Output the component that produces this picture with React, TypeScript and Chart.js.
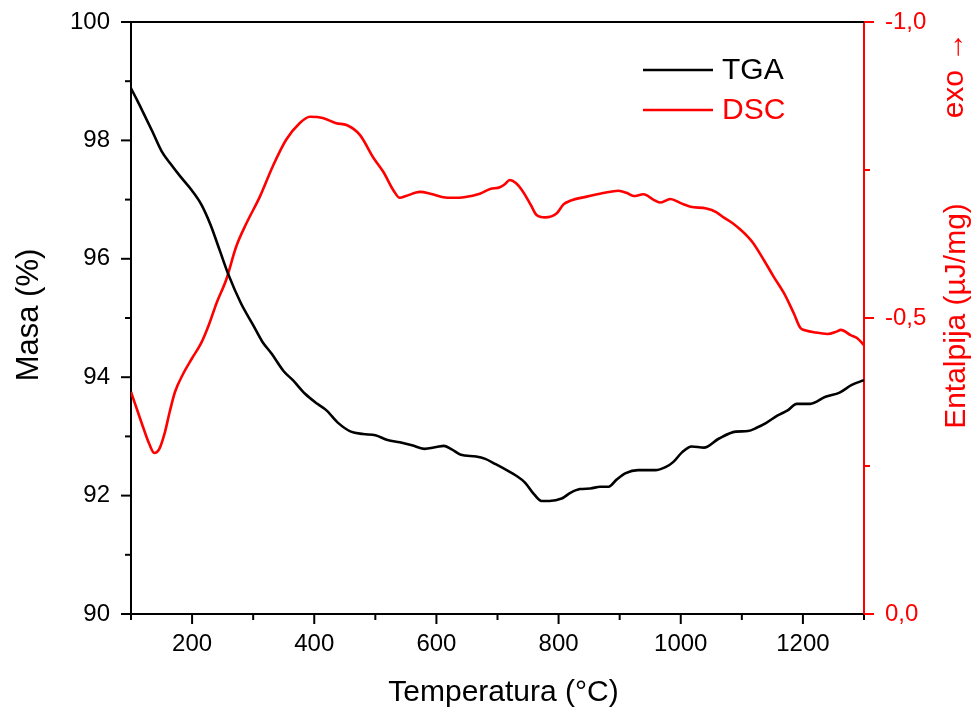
import React, { useEffect, useRef } from "react";
import { Chart, registerables } from "chart.js";

Chart.register(...registerables);

// ---------- data ----------
const TGA_TEMP = [
  100, 110, 120, 135, 150, 165, 180, 200, 215, 230, 245, 260, 280, 300, 315, 330, 350, 365, 385, 405,
  420, 440, 460, 480, 500, 520, 540, 560, 580, 600, 612, 625, 640, 665, 680, 697, 715, 730, 745, 760,
  772, 785, 805, 820, 835, 852, 868, 882, 895, 910, 930, 958, 975, 988, 1002, 1018, 1038, 1062, 1090,
  1110, 1125, 1140, 1158, 1175, 1190, 1212, 1237, 1260, 1280, 1300,
];
const TGA_MASS = [
  98.88, 98.68, 98.47, 98.15, 97.82, 97.6, 97.4, 97.15, 96.92, 96.58, 96.15, 95.72, 95.25, 94.88, 94.6,
  94.4, 94.1, 93.95, 93.72, 93.55, 93.44, 93.22, 93.08, 93.04, 93.02, 92.94, 92.9, 92.85, 92.79, 92.82,
  92.84, 92.78, 92.69, 92.66, 92.62, 92.53, 92.43, 92.34, 92.22, 92.02, 91.91, 91.91, 91.95, 92.05,
  92.11, 92.12, 92.15, 92.15, 92.27, 92.38, 92.43, 92.43, 92.48, 92.57, 92.73, 92.83, 92.81, 92.96,
  93.08, 93.09, 93.15, 93.23, 93.35, 93.44, 93.55, 93.55, 93.67, 93.74, 93.87, 93.95,
];

const DSC_TEMP = [
  100, 110, 120, 130, 138, 146, 155, 163, 172, 185, 200, 215, 228, 240, 256, 272, 289, 311, 332, 354,
  376, 393, 414, 436, 453, 475, 496, 513, 530, 540, 550, 573, 590, 611, 630, 645, 671, 688, 704, 712,
  720, 730, 742, 755, 764, 778, 797, 808, 819, 846, 873, 898, 912, 923, 939, 955, 966, 983, 1000, 1016,
  1042, 1058, 1070, 1085, 1098, 1110, 1119, 1136, 1152, 1169, 1185, 1196, 1205, 1218, 1240, 1255, 1262,
  1278, 1290, 1300,
];
const DSC_ENTH = [
  -0.375, -0.345, -0.315, -0.287, -0.272, -0.278, -0.305, -0.34, -0.375, -0.405, -0.432, -0.458, -0.49,
  -0.525, -0.565, -0.62, -0.66, -0.705, -0.756, -0.801, -0.829, -0.84, -0.838, -0.829, -0.826, -0.809,
  -0.772, -0.747, -0.715, -0.703, -0.706, -0.713, -0.71, -0.704, -0.703, -0.704, -0.71, -0.718, -0.721,
  -0.726, -0.733, -0.728, -0.713, -0.69, -0.674, -0.67, -0.677, -0.692, -0.698, -0.705, -0.711, -0.715,
  -0.711, -0.706, -0.709, -0.7, -0.695, -0.701, -0.694, -0.688, -0.685, -0.679, -0.67, -0.66, -0.649,
  -0.637, -0.626, -0.598, -0.57, -0.542, -0.508, -0.483, -0.479, -0.476, -0.473, -0.477, -0.48, -0.471,
  -0.465, -0.454,
];

const SERIES_NAMES = ["TGA", "DSC"];
const SERIES_COLORS = ["#000000", "#ff0000"];

const X_MAJOR = [200, 400, 600, 800, 1000, 1200];
const X_MINOR = [100, 300, 500, 700, 900, 1100, 1300];
const Y_MAJOR = [90, 92, 94, 96, 98, 100];
const Y_MINOR = [91, 93, 95, 97, 99];
const Y2_MAJOR = [-1, -0.5, 0];
const Y2_MINOR = [-0.75, -0.25];

const X_TITLE = "Temperatura (°C)";
const Y_TITLE = "Masa (%)";
const Y2_TITLE = "Entalpija (µJ/mg)";
const Y2_NOTE = "exo →";

const FONT = "'Liberation Sans', Arial, 'DejaVu Sans', sans-serif";
const RED = "#ff0000";

const zeroPad = (s: any) => {
  s.paddingTop = 0;
  s.paddingBottom = 0;
  s.paddingLeft = 0;
  s.paddingRight = 0;
};

const decorPlugin = {
  id: "decor",
  afterDraw(chart: any) {
    const ctx = chart.ctx as CanvasRenderingContext2D;
    const { left, right, top, bottom } = chart.chartArea;
    const sx = chart.scales.x;
    const sy = chart.scales.y;
    const sy2 = chart.scales.y2;
    ctx.save();
    ctx.lineCap = "butt";
    // top frame
    ctx.strokeStyle = "#000";
    ctx.lineWidth = 2;
    ctx.beginPath();
    ctx.moveTo(left - 1, top);
    ctx.lineTo(right, top);
    ctx.stroke();

    const MAJ = 10;
    const MIN = 6;
    // x ticks
    ctx.strokeStyle = "#000";
    ctx.lineWidth = 2;
    const xt = [...X_MAJOR.map((v) => [v, MAJ]), ...X_MINOR.map((v) => [v, MIN])];
    for (const [v, l] of xt) {
      const px = sx.getPixelForValue(v);
      ctx.beginPath();
      ctx.moveTo(px, bottom);
      ctx.lineTo(px, bottom + l);
      ctx.stroke();
    }
    // left y ticks
    const yt = [...Y_MAJOR.map((v) => [v, MAJ]), ...Y_MINOR.map((v) => [v, MIN])];
    for (const [v, l] of yt) {
      const py = sy.getPixelForValue(v);
      ctx.beginPath();
      ctx.moveTo(left, py);
      ctx.lineTo(left - l, py);
      ctx.stroke();
    }
    // right y ticks
    ctx.strokeStyle = RED;
    const y2t = [...Y2_MAJOR.map((v) => [v, MAJ]), ...Y2_MINOR.map((v) => [v, MIN])];
    for (const [v, l] of y2t) {
      const py = sy2.getPixelForValue(v);
      ctx.beginPath();
      ctx.moveTo(right, py);
      ctx.lineTo(right + l, py);
      ctx.stroke();
    }

    // axis titles
    ctx.textBaseline = "alphabetic";
    ctx.textAlign = "center";
    ctx.fillStyle = "#000";
    ctx.font = `30px ${FONT}`;
    ctx.fillText(X_TITLE, (left + right) / 2 + 6, 701);

    ctx.save();
    ctx.font = `31px ${FONT}`;
    ctx.translate(38, 315);
    ctx.rotate(-Math.PI / 2);
    ctx.fillText(Y_TITLE, 0, 0);
    ctx.restore();

    ctx.fillStyle = RED;
    ctx.save();
    ctx.translate(965, 316);
    ctx.rotate(-Math.PI / 2);
    ctx.fillText(Y2_TITLE, 0, 0);
    ctx.restore();

    ctx.save();
    ctx.translate(963, 75);
    ctx.rotate(-Math.PI / 2);
    ctx.fillText(Y2_NOTE, 0, 0);
    ctx.restore();

    // legend
    ctx.textAlign = "left";
    ctx.textBaseline = "middle";
    chart.data.datasets.forEach((ds: any, i: number) => {
      const ly = 70 + i * 40;
      ctx.strokeStyle = ds.borderColor;
      ctx.lineWidth = 2.6;
      ctx.beginPath();
      ctx.moveTo(643, ly);
      ctx.lineTo(713, ly);
      ctx.stroke();
      ctx.fillStyle = ds.borderColor;
      ctx.font = `30px ${FONT}`;
      ctx.fillText(ds.label, 722, ly + 1);
    });
    ctx.restore();
  },
};

export default function App() {
  const ref = useRef<HTMLCanvasElement | null>(null);

  useEffect(() => {
    document.body.style.margin = "0";
    if (!ref.current) return;
    const tickFont = { size: 24, family: FONT };
    const chart = new Chart(ref.current, {
      type: "line",
      data: {
        datasets: [
          {
            label: SERIES_NAMES[0],
            data: TGA_TEMP.map((t, i) => ({ x: t, y: TGA_MASS[i] })),
            borderColor: SERIES_COLORS[0],
            backgroundColor: SERIES_COLORS[0],
            borderWidth: 2.6,
            pointRadius: 0,
            cubicInterpolationMode: "monotone",
            xAxisID: "x",
            yAxisID: "y",
          },
          {
            label: SERIES_NAMES[1],
            data: DSC_TEMP.map((t, i) => ({ x: t, y: DSC_ENTH[i] })),
            borderColor: SERIES_COLORS[1],
            backgroundColor: SERIES_COLORS[1],
            borderWidth: 2.6,
            pointRadius: 0,
            cubicInterpolationMode: "monotone",
            xAxisID: "x",
            yAxisID: "y2",
          },
        ],
      },
      plugins: [decorPlugin],
      options: {
        animation: false,
        responsive: false,
        devicePixelRatio: 1,
        layout: { padding: { top: 22, left: 0, right: 0, bottom: 0 } },
        plugins: { legend: { display: false }, tooltip: { enabled: false } },
        scales: {
          x: {
            type: "linear",
            position: "bottom",
            min: 100,
            max: 1300,
            afterBuildTicks: (s: any) => {
              s.ticks = X_MAJOR.map((v) => ({ value: v }));
            },
            afterFit: (s: any) => {
              s.height = 94;
              zeroPad(s);
            },
            ticks: {
              font: tickFont,
              color: "#000",
              padding: 16,
              maxRotation: 0,
              autoSkip: false,
              callback: (v: any) => String(v),
            },
            grid: { display: false, drawTicks: false },
            border: { display: true, color: "#000", width: 2 },
          },
          y: {
            type: "linear",
            position: "left",
            min: 90,
            max: 100,
            afterBuildTicks: (s: any) => {
              s.ticks = Y_MAJOR.map((v) => ({ value: v }));
            },
            afterFit: (s: any) => {
              s.width = 131;
              zeroPad(s);
            },
            ticks: { font: tickFont, color: "#000", padding: 21, autoSkip: false, callback: (v: any) => String(v) },
            grid: { display: false, drawTicks: false },
            border: { display: true, color: "#000", width: 2 },
          },
          y2: {
            type: "linear",
            position: "right",
            min: -1,
            max: 0,
            reverse: true,
            afterBuildTicks: (s: any) => {
              s.ticks = Y2_MAJOR.map((v) => ({ value: v }));
            },
            afterFit: (s: any) => {
              s.width = 111;
              zeroPad(s);
            },
            ticks: {
              font: tickFont,
              color: RED,
              padding: 21,
              autoSkip: false,
              callback: (v: any) => (Math.abs(v) < 1e-9 ? "0,0" : Number(v).toFixed(1).replace(".", ",")),
            },
            grid: { display: false, drawTicks: false },
            border: { display: true, color: RED, width: 2 },
          },
        },
      },
    });
    return () => chart.destroy();
  }, []);

  return (
    <div style={{ position: "absolute", left: 0, top: 0, width: 975, height: 708, background: "#fff" }}>
      <canvas ref={ref} width={975} height={708} style={{ width: 975, height: 708 }} />
    </div>
  );
}
